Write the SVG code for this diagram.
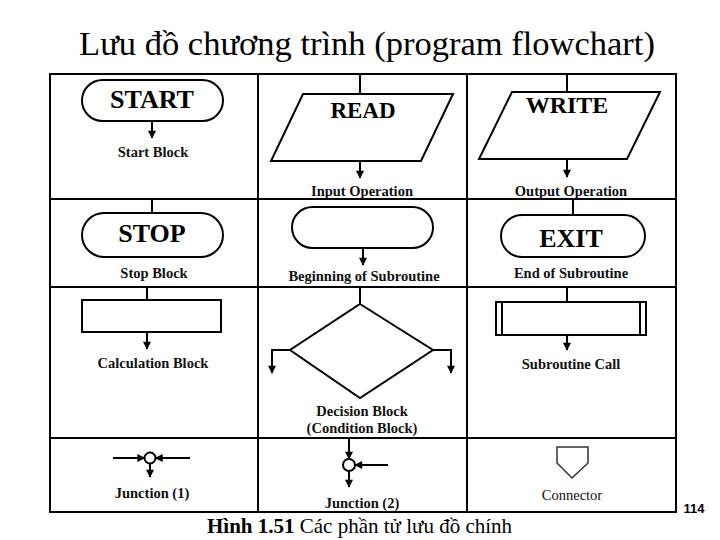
<svg xmlns="http://www.w3.org/2000/svg" width="720" height="540" viewBox="0 0 720 540">
<style>
.ln{stroke:#000;stroke-width:2;fill:none}
.sh{stroke:#000;stroke-width:2;fill:#fff}
.big{font-family:"Liberation Serif","Times New Roman",serif;font-weight:bold;fill:#000;text-anchor:middle}
.lbl{font-family:"Liberation Serif","Times New Roman",serif;font-weight:bold;font-size:14.5px;fill:#111;text-anchor:middle}
.ar{stroke:#000;stroke-width:2;fill:none;marker-end:url(#ah)}
</style>
<defs>
<marker id="ah" viewBox="0 0 10 10" refX="9" refY="5" markerWidth="9" markerHeight="8" orient="auto" markerUnits="userSpaceOnUse">
<path d="M0,0 L10,5 L0,10 z" fill="#000"/>
</marker>
</defs>
<rect width="720" height="540" fill="#fff"/>
<text x="367" y="55" font-family="'Liberation Serif', 'Times New Roman', serif" font-size="34.5" text-anchor="middle" fill="#000">Lưu đồ chương trình (program flowchart)</text>

<g id="grid">
<rect x="50" y="74" width="626" height="438" class="ln"/>
<line x1="258" y1="74" x2="258" y2="512" class="ln"/>
<line x1="467" y1="74" x2="467" y2="512" class="ln"/>
<line x1="50" y1="199" x2="676" y2="199" class="ln"/>
<line x1="50" y1="287" x2="676" y2="287" class="ln"/>
<line x1="50" y1="438" x2="676" y2="438" class="ln"/>
</g>

<g id="connectors">
<line x1="152" y1="121" x2="152" y2="138" class="ar"/>
<line x1="360" y1="74" x2="360" y2="94" class="ln"/>
<line x1="360" y1="161" x2="360" y2="178" class="ar"/>
<line x1="567" y1="74" x2="567" y2="92" class="ln"/>
<line x1="567" y1="159" x2="567" y2="177" class="ar"/>
<line x1="152" y1="199" x2="152" y2="213" class="ln"/>
<line x1="363" y1="248" x2="363" y2="265" class="ar"/>
<line x1="573" y1="199" x2="573" y2="215" class="ln"/>
<line x1="147" y1="287" x2="147" y2="300" class="ln"/>
<line x1="147" y1="332" x2="147" y2="349" class="ar"/>
<line x1="360" y1="287" x2="360" y2="304" class="ln"/>
<polyline points="290,350 272,350 272,373" class="ar"/>
<polyline points="433,350 451,350 451,373" class="ar"/>
<line x1="567" y1="287" x2="567" y2="302" class="ln"/>
<line x1="567" y1="335" x2="567" y2="350" class="ar"/>
<line x1="113" y1="458" x2="144.5" y2="458" class="ar"/>
<line x1="190" y1="458" x2="155.5" y2="458" class="ar"/>
<line x1="150" y1="463.5" x2="150" y2="477" class="ar"/>
<line x1="349" y1="438" x2="349" y2="459" class="ar"/>
<line x1="388" y1="465" x2="355" y2="465" class="ar"/>
<line x1="349" y1="471" x2="349" y2="487" class="ar"/>
</g>

<g id="start">
<rect x="82" y="80" width="141" height="41" rx="20.5" class="sh"/>
<text x="152" y="108" class="big" font-size="26">START</text>
<text x="153" y="157" class="lbl">Start Block</text>
</g>

<g id="read">
<polygon points="303,94 453,94 421,161 271,161" class="sh"/>
<text x="363" y="118" class="big" font-size="23">READ</text>
<text x="362" y="196" class="lbl">Input Operation</text>
</g>

<g id="write">
<polygon points="512,92 660,92 627,159 479,159" class="sh"/>
<text x="567" y="113" class="big" font-size="24">WRITE</text>
<text x="571" y="196" class="lbl">Output Operation</text>
</g>

<g id="stop">
<rect x="82" y="213" width="141" height="44" rx="22" class="sh"/>
<text x="152" y="242" class="big" font-size="26">STOP</text>
<text x="154" y="278" class="lbl">Stop Block</text>
</g>

<g id="begin-sub">
<rect x="292" y="207" width="141" height="41" rx="20.5" class="sh"/>
<text x="364" y="281" class="lbl">Beginning of Subroutine</text>
</g>

<g id="exit">
<rect x="501" y="215" width="144" height="42" rx="21" class="sh"/>
<text x="571" y="247" class="big" font-size="26">EXIT</text>
<text x="571" y="278" class="lbl">End of Subroutine</text>
</g>

<g id="calc">
<rect x="82" y="300" width="139" height="32" class="sh"/>
<text x="153" y="368" class="lbl">Calculation Block</text>
</g>

<g id="decision">
<polygon points="360,304 433,350 360,398 290,350" class="sh"/>
<text x="362" y="416" class="lbl">Decision Block</text>
<text x="362" y="433" class="lbl">(Condition Block)</text>
</g>

<g id="subcall">
<rect x="496" y="302" width="150" height="33" class="sh"/>
<line x1="502" y1="302" x2="502" y2="335" class="ln"/>
<line x1="640" y1="302" x2="640" y2="335" class="ln"/>
<text x="571" y="369" class="lbl">Subroutine Call</text>
</g>

<g id="junction1">
<circle cx="150" cy="458" r="5.5" class="sh"/>
<text x="152" y="498" class="lbl">Junction (1)</text>
</g>

<g id="junction2">
<circle cx="349" cy="465" r="6" class="sh"/>
<text x="362" y="508" class="lbl">Junction (2)</text>
</g>

<g id="connector">
<polygon points="557,447 588,447 588,463 572,478 557,463" fill="#fff" stroke="#333" stroke-width="1.5"/>
<text x="572" y="500" font-family="'Liberation Serif', 'Times New Roman', serif" font-size="14.5" text-anchor="middle" fill="#111">Connector</text>
</g>

<text x="694" y="513" font-family="'Liberation Sans', Arial, sans-serif" font-weight="bold" font-size="13" text-anchor="middle" fill="#000">114</text>
<text x="207" y="533" font-family="'Liberation Serif', 'Times New Roman', serif" font-size="21" fill="#000"><tspan font-weight="bold">Hình 1.51</tspan> Các phần tử lưu đồ chính</text>
</svg>
